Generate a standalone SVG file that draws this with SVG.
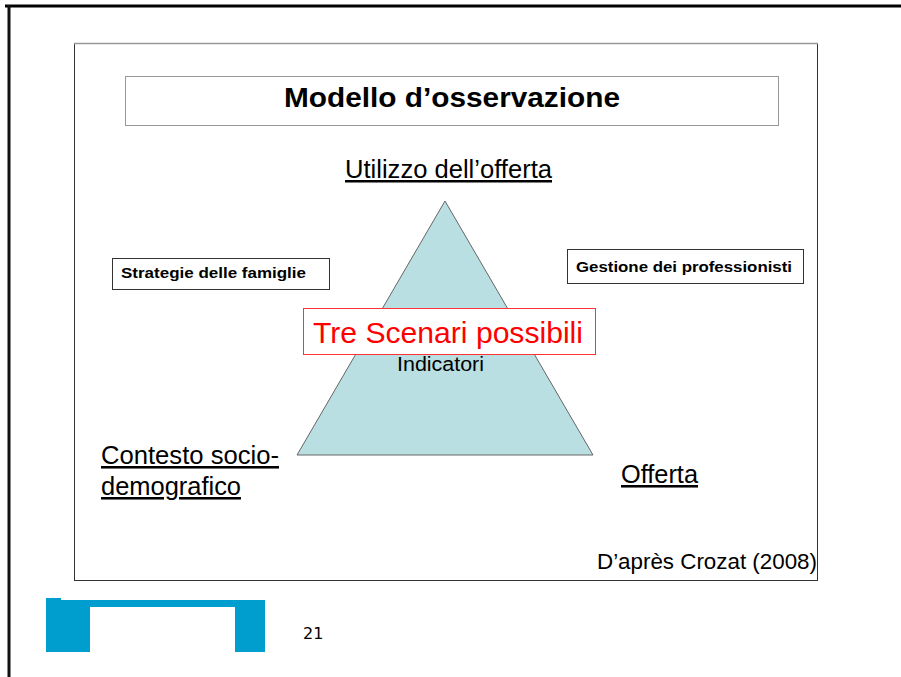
<svg xmlns="http://www.w3.org/2000/svg" width="901" height="677" viewBox="0 0 901 677">
<style>
.lbl{font-family:"Liberation Sans",Arial,sans-serif;fill:#000}
.u{text-decoration:underline}
.box{fill:#fff;stroke:#333;stroke-width:1}
.bold{font-weight:bold}
</style>
<rect x="0" y="0" width="901" height="677" fill="#fff"/>
<g id="page-frame">
<line x1="5" y1="6" x2="901" y2="6" stroke="#000" stroke-width="3"/>
<line x1="9" y1="5" x2="9" y2="677" stroke="#111" stroke-width="3"/>
</g>
<g id="slide-frame">
<rect x="74.5" y="43.5" width="743" height="537" fill="#fff" stroke="#333" stroke-width="1"/>
<line x1="74" y1="43.5" x2="818" y2="43.5" stroke="#999" stroke-width="1.5"/>
</g>
<g id="title">
<rect x="125.5" y="76.5" width="653" height="49" fill="#fff" stroke="#999" stroke-width="1"/>
<text x="284" y="107" class="lbl bold" font-size="28" textLength="336" lengthAdjust="spacingAndGlyphs">Modello d’osservazione</text>
</g>
<g id="triangle">
<polygon points="445,201 297,455 593,455" fill="#b9dfe2" stroke="#666" stroke-width="1"/>
</g>
<g id="utilizzo">
<text x="345" y="178" class="lbl u" font-size="25" textLength="207" lengthAdjust="spacingAndGlyphs">Utilizzo dell’offerta</text>
</g>
<g id="strategie">
<rect x="112.5" y="258.5" width="217" height="31" class="box"/>
<text x="121" y="278" class="lbl bold" font-size="15" textLength="185" lengthAdjust="spacingAndGlyphs">Strategie delle famiglie</text>
</g>
<g id="gestione">
<rect x="567.5" y="249.5" width="236" height="34" class="box"/>
<text x="576" y="272" class="lbl bold" font-size="15" textLength="216" lengthAdjust="spacingAndGlyphs">Gestione dei professionisti</text>
</g>
<g id="indicatori">
<text x="397" y="371" class="lbl" font-size="20" fill="#222" textLength="87" lengthAdjust="spacingAndGlyphs">Indicatori</text>
</g>
<g id="scenari">
<rect x="303.5" y="308.5" width="292" height="46" fill="#fff" stroke="#f33" stroke-width="1"/>
<text x="313" y="343" class="lbl" font-size="30" style="fill:#f00" textLength="270" lengthAdjust="spacingAndGlyphs">Tre Scenari possibili</text>
</g>
<g id="contesto">
<text x="101" y="464" class="lbl u" font-size="25.5" textLength="178" lengthAdjust="spacingAndGlyphs">Contesto socio-</text>
<text x="101" y="495" class="lbl u" font-size="25.5" textLength="140" lengthAdjust="spacingAndGlyphs">demografico</text>
</g>
<g id="offerta">
<text x="621" y="483" class="lbl u" font-size="25.5" textLength="77" lengthAdjust="spacingAndGlyphs">Offerta</text>
</g>
<g id="source">
<text x="597" y="569" class="lbl" font-size="22" textLength="220" lengthAdjust="spacingAndGlyphs">D’après Crozat (2008)</text>
</g>
<g id="logo">
<rect x="46" y="600" width="219" height="52" fill="#009dcf"/>
<rect x="46" y="598" width="15" height="3" fill="#009dcf"/>
<rect x="90" y="607" width="145" height="45" fill="#fff"/>
</g>
<g id="page-number">
<text x="303" y="639" font-family="DejaVu Sans,sans-serif" font-size="16" fill="#000">21</text>
</g>
<g id="connectors"></g>
</svg>
